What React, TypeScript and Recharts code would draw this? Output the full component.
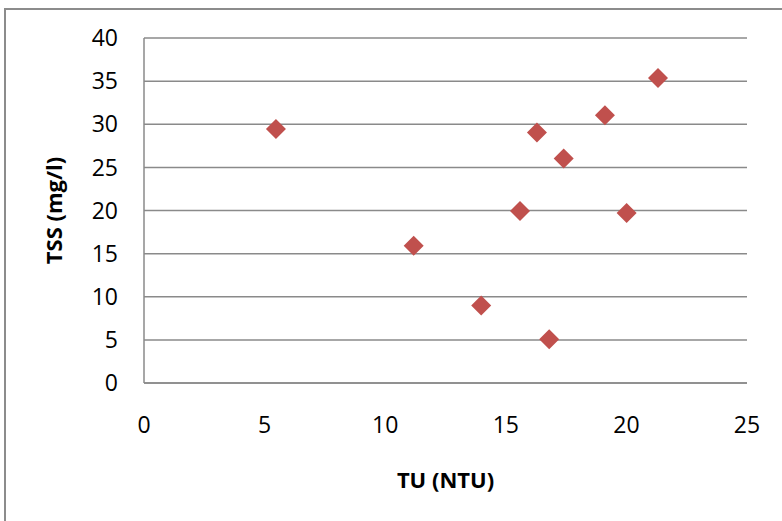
import { ScatterChart, Scatter, XAxis, YAxis, CartesianGrid } from "recharts";

const tuValues = [5.47, 21.31, 19.11, 16.29, 17.4, 15.59, 20.01, 11.18, 13.98, 16.8];
const tssValues = [29.45, 35.37, 31.03, 29.05, 26.03, 19.95, 19.72, 15.92, 9.0, 5.08];
const xTicks = [0, 5, 10, 15, 20, 25];
const yTicks = [0, 5, 10, 15, 20, 25, 30, 35, 40];

const points = tuValues.map((tu, i) => ({ tu, tss: tssValues[i] }));

const FONT = "'Open Sans', sans-serif";
const GRID = "#8a8a8a";

// Excel-style diamond marker
const Diamond = (props: any) => {
  const { cx, cy } = props;
  const r = 10;
  return (
    <polygon
      points={`${cx},${cy - r} ${cx + r},${cy} ${cx},${cy + r} ${cx - r},${cy}`}
      fill="#C0504D"
    />
  );
};

export default function App() {
  return (
    <div
      style={{
        position: "fixed",
        left: 0,
        top: 0,
        width: 782,
        height: 521,
        overflow: "hidden",
        background: "#fff",
      }}
    >
      <div
        style={{
          position: "absolute",
          left: 4,
          top: 8,
          width: 800,
          height: 540,
          border: "2px solid #8c8c8c",
        }}
      />
      <div style={{ position: "absolute", left: 0, top: 0 }}>
        <ScatterChart
          width={782}
          height={521}
          margin={{ top: 38, right: 35, bottom: 38, left: 0 }}
        >
          <CartesianGrid vertical={false} stroke={GRID} strokeWidth={1.5} />
          <XAxis
            type="number"
            dataKey="tu"
            domain={[0, 25]}
            ticks={xTicks}
            height={100}
            axisLine={{ stroke: GRID, strokeWidth: 1.5 }}
            tickLine={false}
            tickSize={0}
            tickMargin={34}
            tick={{ fill: "#000", fontSize: 23, fontFamily: FONT }}
            label={{
              value: "TU (NTU)",
              position: "insideBottom",
              offset: -5,
              style: { fontFamily: FONT, fontSize: 22, fontWeight: 700, fill: "#000" },
            }}
          />
          <YAxis
            type="number"
            dataKey="tss"
            domain={[0, 40]}
            ticks={yTicks}
            width={144}
            axisLine={{ stroke: GRID, strokeWidth: 1.5 }}
            tickLine={false}
            tickSize={0}
            tickMargin={26}
            tick={{ fill: "#000", fontSize: 23, fontFamily: FONT }}
            label={{
              value: "TSS (mg/l)",
              angle: -90,
              position: "insideLeft",
              offset: 54,
              style: {
                fontFamily: FONT,
                fontSize: 22,
                fontWeight: 700,
                fill: "#000",
                textAnchor: "middle",
              },
            }}
          />
          <Scatter data={points} shape={Diamond} isAnimationActive={false} />
        </ScatterChart>
      </div>
    </div>
  );
}
